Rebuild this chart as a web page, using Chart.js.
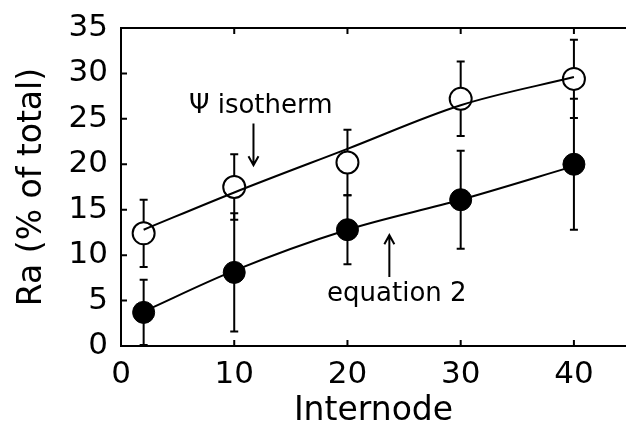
<!DOCTYPE html>
<html>
<head>
<meta charset="utf-8">
<script src="https://cdn.jsdelivr.net/npm/chart.js@4.4.1/dist/chart.umd.min.js"></script>
<style>
  html, body { margin: 0; padding: 0; background: #fff; overflow: hidden; }
</style>
</head>
<body>
<canvas id="chart" width="626" height="431"></canvas>
<script>
// values
const internodes = [2, 10, 20, 30, 40];
const isothermRa = [12.4, 17.5, 20.2, 27.2, 29.4];
const isothermErr = [3.7, 3.6, 3.6, 4.1, 4.3];
const equationRa = [3.7, 8.1, 12.8, 16.1, 20.0];
const equationErr = [3.6, 6.5, 3.8, 5.4, 7.2];
// fitted curves
const isothermFit = [12.8, 16.9, 21.7, 26.5, 29.6];
const equationFit = [3.8, 8.3, 12.8, 16.1, 19.8];
const xTicks = [0, 10, 20, 30, 40];
const yTicks = [0, 5, 10, 15, 20, 25, 30, 35];

const FONT = "'DejaVu Sans', sans-serif";
Chart.defaults.font.family = FONT;
Chart.defaults.color = "#000";

const pts = (xs, ys) => xs.map((x, i) => ({ x: x, y: ys[i] }));

// error bars, drawn under the markers
const errorBars = {
  id: "errorBars",
  beforeDatasetsDraw(chart) {
    const { ctx, scales: { x, y } } = chart;
    ctx.save();
    ctx.strokeStyle = "#000";
    ctx.lineWidth = 2;
    [[isothermRa, isothermErr], [equationRa, equationErr]].forEach(([vals, errs]) => {
      vals.forEach((v, i) => {
        const px = x.getPixelForValue(internodes[i]);
        const top = y.getPixelForValue(v + errs[i]);
        const bot = y.getPixelForValue(v - errs[i]);
        ctx.beginPath();
        ctx.moveTo(px, top); ctx.lineTo(px, bot);
        ctx.moveTo(px - 4, top); ctx.lineTo(px + 4, top);
        ctx.moveTo(px - 4, bot); ctx.lineTo(px + 4, bot);
        ctx.stroke();
      });
    });
    ctx.restore();
  }
};

function arrow(ctx, x, y1, y2) {
  const dir = y2 > y1 ? 1 : -1;
  ctx.beginPath();
  ctx.moveTo(x, y1); ctx.lineTo(x, y2);
  ctx.moveTo(x - 5, y2 - dir * 9); ctx.lineTo(x, y2); ctx.lineTo(x + 5, y2 - dir * 9);
  ctx.stroke();
}

// box, inward ticks and the two labels
const frame = {
  id: "frame",
  afterDraw(chart) {
    const { ctx, chartArea: a, scales: { x, y } } = chart;
    ctx.save();
    ctx.strokeStyle = "#000";
    ctx.lineWidth = 2;
    ctx.beginPath();
    ctx.moveTo(a.right, a.top); ctx.lineTo(a.left, a.top);
    ctx.lineTo(a.left, a.bottom); ctx.lineTo(a.right, a.bottom);
    xTicks.forEach(v => {
      const px = x.getPixelForValue(v);
      ctx.moveTo(px, a.bottom); ctx.lineTo(px, a.bottom - 6);
      ctx.moveTo(px, a.top); ctx.lineTo(px, a.top + 6);
    });
    yTicks.forEach(v => {
      const py = y.getPixelForValue(v);
      ctx.moveTo(a.left, py); ctx.lineTo(a.left + 6, py);
    });
    ctx.stroke();

    ctx.fillStyle = "#000";
    ctx.font = "26px " + FONT;
    ctx.textBaseline = "alphabetic";
    ctx.textAlign = "left";
    ctx.fillText("\u03A8 isotherm", x.getPixelForValue(6.0), y.getPixelForValue(25.6));
    ctx.fillText("equation 2", x.getPixelForValue(18.2), y.getPixelForValue(5.0));
    arrow(ctx, x.getPixelForValue(11.7), y.getPixelForValue(24.5), y.getPixelForValue(19.9));
    arrow(ctx, x.getPixelForValue(23.7), y.getPixelForValue(7.6), y.getPixelForValue(12.2));
    ctx.restore();
  }
};

new Chart(document.getElementById("chart"), {
  type: "scatter",
  data: {
    datasets: [
      {
        label: "isotherm fit",
        data: pts(internodes, isothermFit),
        showLine: true,
        borderColor: "#000",
        borderWidth: 2,
        pointRadius: 0,
        cubicInterpolationMode: "monotone",
        order: 1
      },
      {
        label: "equation 2 fit",
        data: pts(internodes, equationFit),
        showLine: true,
        borderColor: "#000",
        borderWidth: 2,
        pointRadius: 0,
        cubicInterpolationMode: "monotone",
        order: 1
      },
      {
        label: "isotherm",
        data: pts(internodes, isothermRa),
        pointRadius: 11,
        pointBackgroundColor: "#fff",
        pointBorderColor: "#000",
        pointBorderWidth: 2,
        order: 2
      },
      {
        label: "equation 2",
        data: pts(internodes, equationRa),
        pointRadius: 11,
        pointBackgroundColor: "#000",
        pointBorderColor: "#000",
        pointBorderWidth: 1,
        order: 2
      }
    ]
  },
  options: {
    responsive: false,
    animation: false,
    layout: { autoPadding: false, padding: { top: 28, left: 0, right: 0, bottom: 0 } },
    plugins: { legend: { display: false }, tooltip: { enabled: false } },
    scales: {
      x: {
        type: "linear",
        min: 0,
        max: 44.6,
        afterBuildTicks: s => { s.ticks = xTicks.map(v => ({ value: v })); },
        afterFit: s => { s.height = 85; s.paddingRight = 0; s.paddingLeft = 0; },
        grid: { display: false, drawTicks: false },
        border: { display: false },
        ticks: { font: { size: 31 }, color: "#000", padding: 10, maxRotation: 0 },
        title: { display: true, text: "Internode", font: { size: 33 }, color: "#000", padding: 0 }
      },
      y: {
        min: 0,
        max: 35,
        afterBuildTicks: s => { s.ticks = yTicks.map(v => ({ value: v })); },
        afterFit: s => { s.width = 121; s.paddingTop = 0; s.paddingBottom = 0; },
        grid: { display: false, drawTicks: false },
        border: { display: false },
        ticks: { font: { size: 31 }, color: "#000", padding: 13 },
        title: { display: true, text: "Ra (% of total)", font: { size: 33 }, color: "#000", padding: { top: 13, bottom: 0 } }
      }
    }
  },
  plugins: [errorBars, frame]
});
</script>
</body>
</html>
